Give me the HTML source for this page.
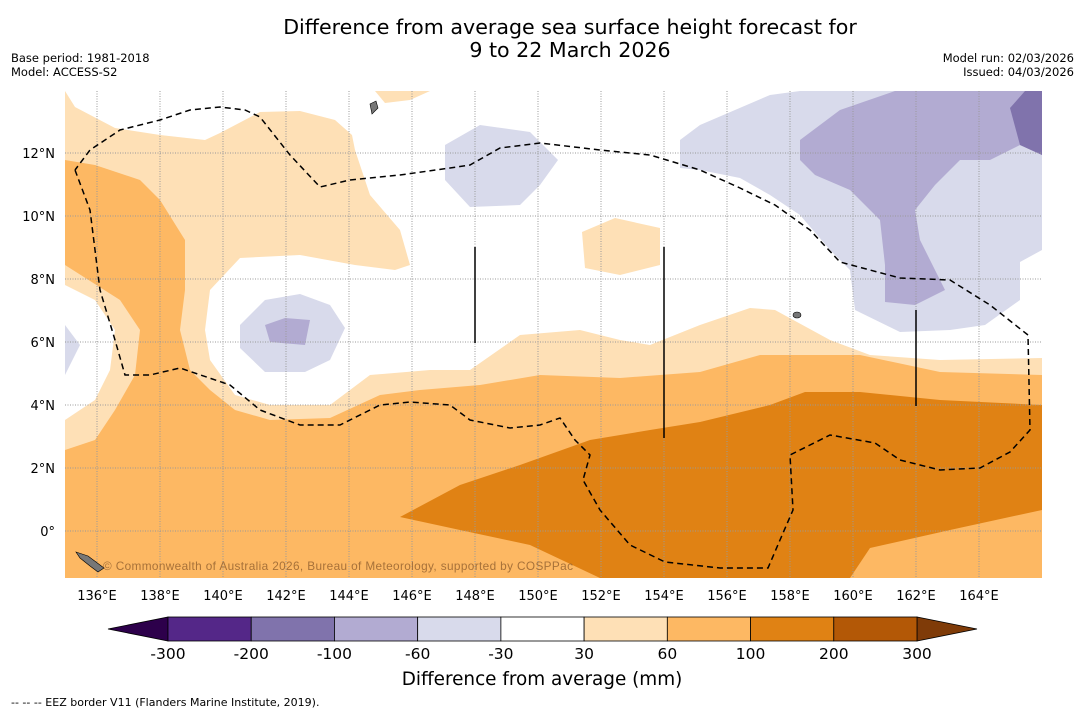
<!DOCTYPE html>
<html><head><meta charset="utf-8">
<style>
body{margin:0;background:#fff;font-family:"Liberation Sans","DejaVu Sans",sans-serif;}
svg text{font-family:"DejaVu Sans","Liberation Sans",sans-serif;}
</style></head>
<body>
<svg id="c" width="1085" height="713" viewBox="0 0 1085 713">
<rect width="1085" height="713" fill="#fff"/>
<text x="570" y="34" font-size="20.6" text-anchor="middle">Difference from average sea surface height forecast for</text>
<text x="570" y="57" font-size="20.6" text-anchor="middle">9 to 22 March 2026</text>
<text x="11" y="62" font-size="11.5">Base period: 1981-2018</text>
<text x="11" y="76" font-size="11.5">Model: ACCESS-S2</text>
<text x="1074" y="62" font-size="11.5" text-anchor="end">Model run: 02/03/2026</text>
<text x="1074" y="76" font-size="11.5" text-anchor="end">Issued: 04/03/2026</text>
<defs><clipPath id="mc"><rect x="65" y="91" width="977" height="487"/></clipPath></defs>
<g clip-path="url(#mc)">
<rect x="65" y="91" width="977" height="487" fill="#fff"/>
<polygon fill="#fee0b6" points="65,91 75,107 115,128 160,135 205,140 220,133 260,112 300,111 335,120 352,135 355,150 370,195 400,230 410,265 395,270 355,265 300,255 240,258 210,290 205,330 210,360 235,395 270,405 330,405 370,375 430,370 470,370 520,335 580,330 620,340 650,345 700,325 750,308 775,310 830,340 870,355 940,360 1042,358 1042,578 65,578"/>
<polygon fill="#fff" points="65,285 95,300 115,330 110,370 95,400 65,420"/>
<polygon fill="#fdb863" points="65,160 95,165 140,180 160,200 185,240 185,290 180,330 190,370 210,390 235,410 270,420 330,418 380,395 420,390 480,385 540,375 620,378 700,372 760,355 860,355 940,372 1042,375 1042,578 65,578 65,450 95,440 115,410 135,375 140,330 120,300 65,265"/>
<polygon fill="#e08214" points="400,517 460,485 520,465 590,440 650,430 700,422 770,405 805,392 860,392 940,400 1042,405 1042,510 950,530 870,548 850,578 600,578 530,545 460,530"/>
<polygon fill="#fee0b6" points="582,232 615,218 660,228 660,265 620,275 585,268"/>
<polygon fill="#fee0b6" points="375,91 430,91 410,100 385,103"/>
<polygon fill="#d8daeb" points="240,325 265,300 300,294 330,305 345,328 330,360 305,372 265,372 240,348"/>
<polygon fill="#b2abd2" points="265,325 285,318 310,320 305,345 270,342"/>
<polygon fill="#d8daeb" points="65,325 80,345 65,375"/>
<polygon fill="#d8daeb" points="445,145 480,125 530,132 558,160 540,185 520,205 470,207 445,180"/>
<polygon fill="#d8daeb" points="680,140 700,125 770,95 800,91 1042,91 1042,250 1020,262 1020,300 985,325 950,330 900,332 855,310 850,270 830,250 800,215 770,195 740,178 700,170 680,168"/>
<polygon fill="#b2abd2" points="800,140 840,110 895,91 1042,91 1042,155 1020,145 990,160 960,160 935,185 915,210 920,240 945,290 915,305 885,302 885,265 880,220 850,190 815,175 800,160"/>
<polygon fill="#8073ac" points="1010,108 1025,91 1042,91 1042,155 1020,145"/>
<g id="grid"></g>
<polyline fill="none" stroke="#000" stroke-width="1.5" stroke-dasharray="6,4" points="75,170 90,210 100,290 115,340 125,375 150,375 180,368 230,385 260,410 300,425 340,425 380,405 410,402 450,405 470,420 510,428 540,425 560,418 575,440 590,455 583,480 600,510 630,545 665,562 720,568 768,568 780,540 793,510 790,455 830,435 875,443 900,460 940,470 980,468 1010,452 1030,430 1028,335 990,305 950,280 900,278 840,262 810,230 775,205 740,188 700,170 650,155 600,150 540,143 500,148 470,165 450,168 400,175 350,180 320,187 290,155 260,117 245,110 220,107 190,110 160,120 120,130 90,150 75,170"/>
<line x1="475" y1="247" x2="475" y2="343" stroke="#000" stroke-width="1.5"/>
<line x1="664" y1="247" x2="664" y2="438" stroke="#000" stroke-width="1.5"/>
<line x1="916" y1="310" x2="916" y2="406" stroke="#000" stroke-width="1.5"/>
<polygon fill="#777" stroke="#000" stroke-width="0.6" points="76,552 88,556 96,562 104,568 98,572 90,566 80,558"/>
<polygon fill="#777" stroke="#000" stroke-width="0.6" points="370,104 376,101 378,108 372,114"/>
<ellipse cx="797" cy="315" rx="4" ry="3" fill="#777" stroke="#000" stroke-width="0.6"/>
<text x="103" y="570" font-size="11.8" fill="#8a5a2b" fill-opacity="0.75" style="font-family:'Liberation Sans',sans-serif" textLength="470">© Commonwealth of Australia 2026, Bureau of Meteorology, supported by COSPPac</text>
</g>
<g id="axes"></g>
<g id="cbar"></g>
<text x="542" y="685" font-size="18.4" text-anchor="middle">Difference from average (mm)</text>
<text x="11" y="706" font-size="11">-- -- -- EEZ border V11 (Flanders Marine Institute, 2019).</text>
</svg>
<script>
const lonTicks=[136,138,140,142,144,146,148,150,152,154,156,158,160,162,164];
const latTicks=[0,2,4,6,8,10,12];
const levelLabels=["-300","-200","-100","-60","-30","30","60","100","200","300"];
const levelColors=["#542788","#8073ac","#b2abd2","#d8daeb","#ffffff","#fee0b6","#fdb863","#e08214","#b35806"];
const extendColors=["#2d004b","#7f3b08"];
const NS="http://www.w3.org/2000/svg";
const xs=lon=>65.5+(lon-135)*31.5;
const ys=lat=>531-lat*31.5;
function mk(t,a,p){const e=document.createElementNS(NS,t);for(const k in a)e.setAttribute(k,a[k]);p.appendChild(e);return e;}
const grid=document.getElementById('grid'),axes=document.getElementById('axes'),cb=document.getElementById('cbar');
lonTicks.forEach(l=>{
 const g=mk('line',{x1:xs(l),x2:xs(l),y1:91,y2:578,stroke:'#999','stroke-width':1,'stroke-dasharray':'1,1.5'},grid);
 
 
 const t=mk('text',{x:xs(l),y:600,'font-size':13,'text-anchor':'middle'},axes);
 t.textContent=l+'°E';
 
 
});
latTicks.forEach(l=>{
 const g=mk('line',{x1:65,x2:1042,y1:ys(l),y2:ys(l),stroke:'#999','stroke-width':1,'stroke-dasharray':'1,1.5'},grid);
 
 
 const t=mk('text',{x:55,y:ys(l)+5,'font-size':13,'text-anchor':'end'},axes);
 t.textContent=l===0?'0°':l+'°N';
 
 
});
const cx0=168,cx1=917,cy=617,ch=24,w=(cx1-cx0)/levelColors.length;
const lt=mk('polygon',{points:`108,${cy+ch/2} ${cx0},${cy} ${cx0},${cy+ch}`,fill:extendColors[0],stroke:'#000','stroke-width':0.8},cb);


const rt=mk('polygon',{points:`977,${cy+ch/2} ${cx1},${cy} ${cx1},${cy+ch}`,fill:extendColors[1],stroke:'#000','stroke-width':0.8},cb);


levelColors.forEach((c,i)=>{
 const r=mk('rect',{x:cx0+i*w,y:cy,width:w,height:ch,fill:c,stroke:'#000','stroke-width':0.8},cb);
 
 
});
levelLabels.forEach((s,i)=>{
 const t=mk('text',{x:cx0+i*w,y:659,'font-size':15.5,'text-anchor':'middle'},cb);
 t.textContent=s;
 
 
});
</script>
</body></html>
